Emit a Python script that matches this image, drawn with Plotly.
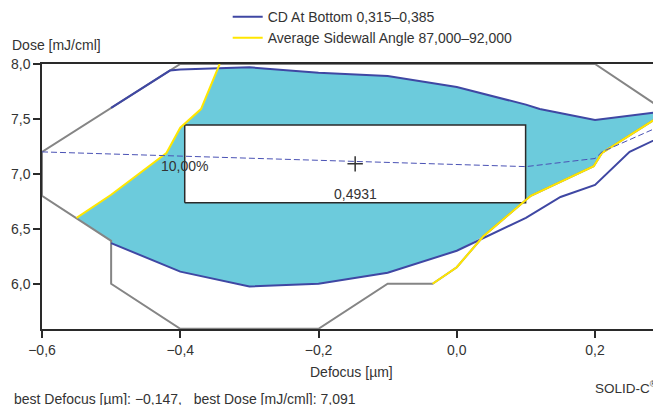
import plotly.graph_objects as go

# ---------------- data ----------------
x_ticks = [-0.6, -0.4, -0.2, 0.0, 0.2]
y_ticks = [6.0, 6.5, 7.0, 7.5, 8.0]

# outline of the measured focus/dose domain
outline_x = [-0.6, -0.4, 0.2, 0.3, 0.3, 0.21, 0.198, 0.107, 0.038, 0.0, -0.035, -0.1, -0.2, -0.4, -0.5, -0.5, -0.6, -0.6]
outline_y = [7.2, 8.0, 8.0, 7.58, 7.55, 7.19, 7.07, 6.8, 6.43, 6.15, 6.0, 6.0, 5.59, 5.59, 6.0, 6.39, 6.8, 7.2]

# CD At Bottom contour (upper and lower branch)
cd_upper_x = [-0.5, -0.415, -0.4, -0.3, -0.2, -0.1, 0.0, 0.1, 0.12, 0.2, 0.3]
cd_upper_y = [7.6, 7.94, 7.95, 7.97, 7.92, 7.89, 7.79, 7.63, 7.59, 7.49, 7.57]
cd_lower_x = [-0.5, -0.4, -0.3, -0.2, -0.1, 0.0, 0.1, 0.15, 0.2, 0.21, 0.25, 0.3]
cd_lower_y = [6.37, 6.11, 5.975, 6.0, 6.1, 6.3, 6.6, 6.79, 6.9, 6.96, 7.2, 7.35]

# Average Sidewall Angle contour (left and right branch)
swa_left_x = [-0.55, -0.5, -0.42, -0.40, -0.37, -0.343]
swa_left_y = [6.6, 6.81, 7.19, 7.42, 7.59, 8.0]
swa_right_x = [-0.035, 0.0, 0.038, 0.107, 0.198, 0.21, 0.3]
swa_right_y = [6.0, 6.15, 6.43, 6.8, 7.07, 7.19, 7.55]

# overlapping process window
window_x = [-0.55, -0.5, -0.5, -0.4, -0.3, -0.2, -0.1, 0.0, 0.038, 0.107, 0.198, 0.21, 0.2954, 0.2954,
            0.2, 0.12, 0.1, 0.0, -0.1, -0.2, -0.3, -0.345, -0.37, -0.40, -0.42, -0.5, -0.55]
window_y = [6.6, 6.39, 6.37, 6.11, 5.975, 6.0, 6.1, 6.3, 6.43, 6.8, 7.07, 7.19, 7.527, 7.566,
            7.49, 7.59, 7.63, 7.79, 7.89, 7.92, 7.97, 7.96, 7.59, 7.42, 7.19, 6.81, 6.6]

# best-dose line
dose_line_x = [-0.6, 0.1, 0.2, 0.21, 0.3]
dose_line_y = [7.2, 7.066, 7.14, 7.2, 7.45]

best_defocus = -0.147
best_dose = 7.091
depth_of_focus = 0.4931
exposure_latitude = 10.0  # percent

# ---------------- styles ----------------
FONT = "Liberation Sans, Arial, Helvetica, sans-serif"
TXT = "#333333"
GRAY = "#858585"
BLUE = "#3f47a3"
YELLOW = "#ffe600"
CYAN = "#6ccbdc"

def fmt(v, d):
    s = f"{abs(v):.{d}f}".replace(".", ",")
    return ("\u2212" if v < 0 else "") + s

fig = go.Figure()

fig.add_trace(go.Scatter(x=window_x, y=window_y, mode="lines", fill="toself",
                         fillcolor=CYAN, line=dict(width=0), showlegend=False, hoverinfo="skip"))

# rectangle of the fitted window
half_w = depth_of_focus / 2
half_h = best_dose * exposure_latitude / 100 / 2
rx = [best_defocus - half_w, best_defocus + half_w, best_defocus + half_w, best_defocus - half_w, best_defocus - half_w]
ry = [best_dose - half_h, best_dose - half_h, best_dose + half_h, best_dose + half_h, best_dose - half_h]
fig.add_trace(go.Scatter(x=rx, y=ry, mode="lines", fill="toself", fillcolor="white",
                         line=dict(color="#2a2a2a", width=1.5), showlegend=False, hoverinfo="skip"))

fig.add_trace(go.Scatter(x=outline_x, y=outline_y, mode="lines",
                         line=dict(color=GRAY, width=2), showlegend=False, hoverinfo="skip"))

fig.add_trace(go.Scatter(x=cd_upper_x, y=cd_upper_y, mode="lines", name="CD At Bottom 0,315\u20130,385",
                         legendgroup="cd", line=dict(color=BLUE, width=2)))
fig.add_trace(go.Scatter(x=cd_lower_x, y=cd_lower_y, mode="lines", name="CD At Bottom 0,315\u20130,385",
                         legendgroup="cd", showlegend=False, line=dict(color=BLUE, width=2)))
fig.add_trace(go.Scatter(x=swa_left_x, y=swa_left_y, mode="lines", name="Average Sidewall Angle 87,000\u201392,000",
                         legendgroup="swa", line=dict(color=YELLOW, width=2)))
fig.add_trace(go.Scatter(x=swa_right_x, y=swa_right_y, mode="lines", name="Average Sidewall Angle 87,000\u201392,000",
                         legendgroup="swa", showlegend=False, line=dict(color=YELLOW, width=2)))

fig.add_trace(go.Scatter(x=dose_line_x, y=dose_line_y, mode="lines", showlegend=False, hoverinfo="skip",
                         line=dict(color="#4a52b5", width=1, dash="6px,3px")))

fig.add_trace(go.Scatter(x=[best_defocus], y=[best_dose], mode="markers", showlegend=False,
                         marker=dict(symbol="cross-thin", size=11, line=dict(color="#333333", width=1.5))))

annotations = [
    dict(x=best_defocus - half_w, y=best_dose, xref="x", yref="y", text=fmt(exposure_latitude, 2) + "%",
         showarrow=False, xanchor="center", yanchor="middle", yshift=-2),
    dict(x=best_defocus, y=best_dose - half_h, xref="x", yref="y", text=fmt(depth_of_focus, 4),
         showarrow=False, xanchor="center", yanchor="middle", yshift=9),
    dict(x=-0.0517, y=1.0717, xref="paper", yref="paper", text="Dose [mJ/cml]",
         showarrow=False, xanchor="left", yanchor="middle"),
    dict(x=0.5, y=-0.161, xref="paper", yref="paper", text="Defocus [\u00b5m]",
         showarrow=False, xanchor="center", yanchor="middle"),
    dict(x=-0.049, y=-0.264, xref="paper", yref="paper",
         text="best Defocus [\u00b5m]: " + fmt(best_defocus, 3) + ",&nbsp;&nbsp; best Dose [mJ/cml]: " + fmt(best_dose, 3),
         showarrow=False, xanchor="left", yanchor="middle"),
    dict(x=0.9975, y=-0.218, xref="paper", yref="paper", text="SOLID-C<sup>\u00ae</sup>",
         showarrow=False, xanchor="right", yanchor="middle", font=dict(size=13.5)),
]

axis_common = dict(showgrid=False, zeroline=False, showline=True, linecolor="#2a2a2a", linewidth=1.5,
                   ticks="outside", ticklen=7, tickwidth=1.5, tickcolor="#2a2a2a", tickformat=".1f",
                   tickfont=dict(size=14, color=TXT, family=FONT))

# the page body adds an 8px offset, so the figure is 8px smaller and margins shifted
fig.update_layout(
    width=653, height=397,
    margin=dict(l=34, r=0, t=56, b=76, autoexpand=False),
    paper_bgcolor="white", plot_bgcolor="white",
    separators=",.",
    font=dict(family=FONT, size=14, color=TXT),
    xaxis=dict(range=[-0.6, 0.2954], tickvals=x_ticks, mirror=True, **axis_common),
    yaxis=dict(range=[5.588, 8.0], tickvals=y_ticks, **axis_common),
    legend=dict(x=0.30, y=1.2375, xanchor="left", yanchor="top", bgcolor="rgba(0,0,0,0)",
                font=dict(size=14, color=TXT, family=FONT), tracegroupgap=0, itemwidth=30),
    annotations=annotations,
)

fig.write_html("out.html")
